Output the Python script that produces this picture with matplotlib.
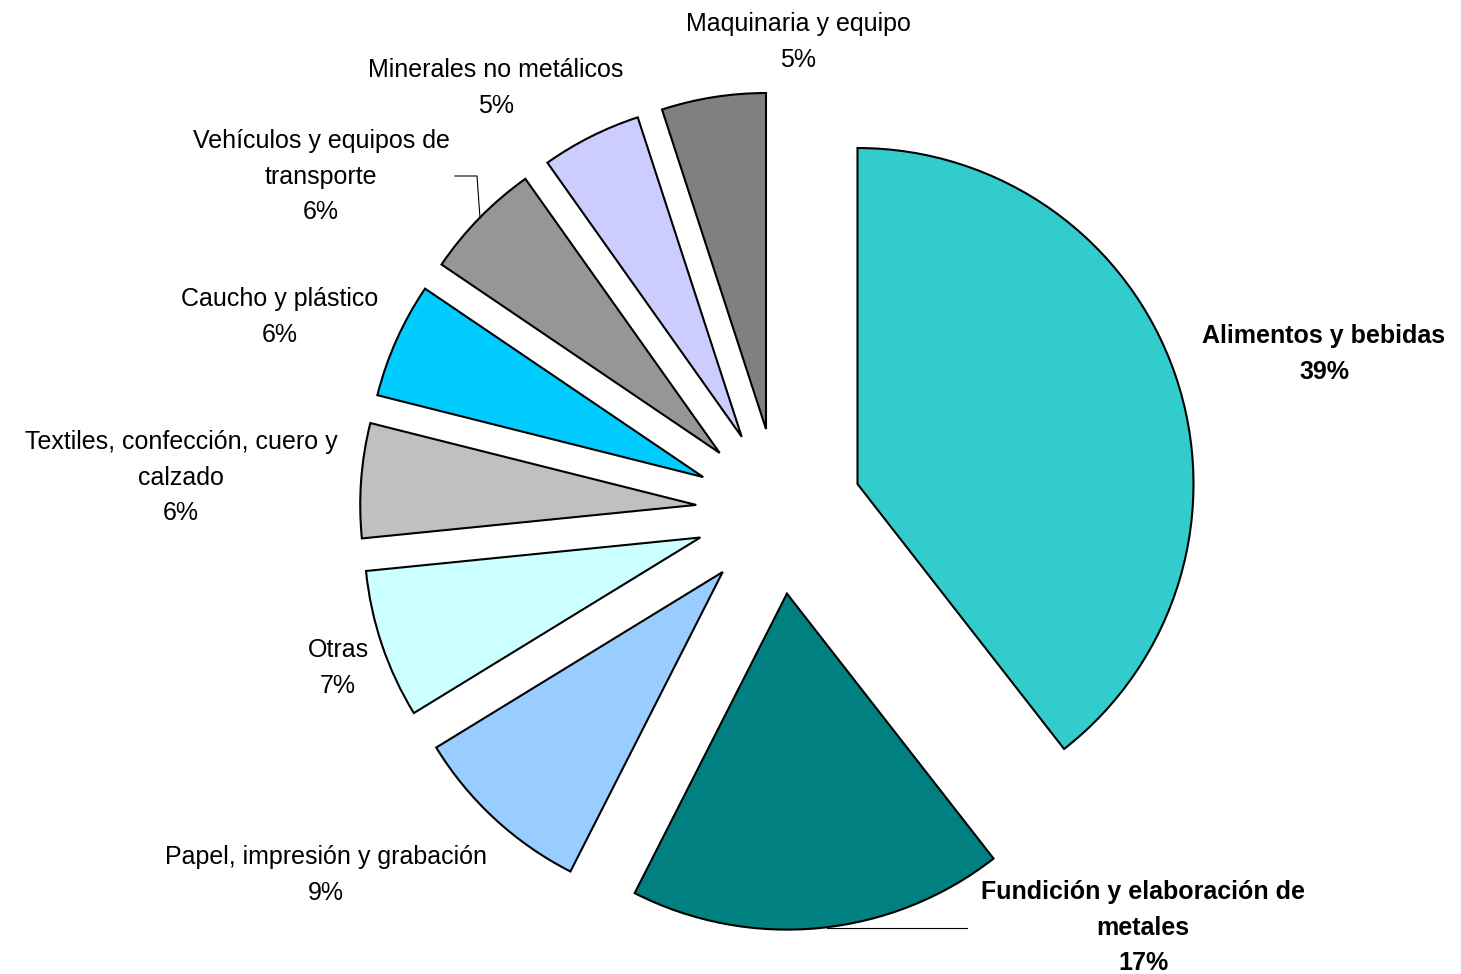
import matplotlib
matplotlib.use("Agg")
import matplotlib.pyplot as plt
from matplotlib.lines import Line2D

# ---- data ----
categories = ["Alimentos y bebidas", "Fundición y elaboración de metales",
              "Papel, impresión y grabación", "Otras",
              "Textiles, confección, cuero y calzado", "Caucho y plástico",
              "Vehículos y equipos de transporte", "Minerales no metálicos",
              "Maquinaria y equipo"]
shares = [39.4, 18.0, 8.75, 7.15, 5.5, 5.55, 5.7, 4.8, 5.0]
# percentages as printed in the chart's data labels
pct_labels = ["39%", "17%", "9%", "7%", "6%", "6%", "6%", "5%", "5%"]
label_lines = [["Alimentos y bebidas"],
               ["Fundición y elaboración de", "metales"],
               ["Papel, impresión y grabación"],
               ["Otras"],
               ["Textiles, confección, cuero y", "calzado"],
               ["Caucho y plástico"],
               ["Vehículos y equipos de", "transporte"],
               ["Minerales no metálicos"],
               ["Maquinaria y equipo"]]
bold_labels = [True, True, False, False, False, False, False, False, False]

# ---- style / layout ----
colors = ["#33CCCC", "#008080", "#99CCFF", "#CCFFFF", "#C0C0C0",
          "#00CCFF", "#969696", "#CCCCFF", "#808080"]
W, H = 1461, 974
CX, CY = 779, 511      # pie centre in pixels (from top-left)
R = 336                # radius in pixels
EXPLODE = 83 / R
label_pos = [(1324, 334), (1143, 890), (326, 855), (338, 648), (181, 440),
             (280, 297), (321, 139), (496, 68), (798, 22)]
LINE_STEP = 35.7
FS = 18

plt.rcParams["font.family"] = ["Liberation Sans", "DejaVu Sans"]

fig = plt.figure(figsize=(W / 100, H / 100), dpi=100)
ax = fig.add_axes([0, 0, 1, 1])
ax.pie(shares, colors=colors, startangle=90, counterclock=False,
       explode=[EXPLODE] * len(shares),
       wedgeprops=dict(edgecolor="black", linewidth=1.5))
ax.set_xlim(-CX / R, (W - CX) / R)
ax.set_ylim(-(H - CY) / R, CY / R)
ax.set_aspect("equal")
ax.axis("off")


def fx(px):
    return px / W


def fy(py):
    return 1 - py / H


for lines, pct, (x, y0), b in zip(label_lines, pct_labels, label_pos, bold_labels):
    all_lines = lines + [pct]
    for i, line in enumerate(all_lines):
        fig.text(fx(x), fy(y0 + i * LINE_STEP + 9), line, ha="center",
                 va="baseline", fontsize=FS,
                 fontweight="bold" if b else "normal", color="black")

# leader lines
fig.add_artist(Line2D([fx(455), fx(477), fx(480)], [fy(176), fy(176), fy(218)],
                      color="black", linewidth=0.8))
fig.add_artist(Line2D([fx(967), fx(827)], [fy(928), fy(928)],
                      color="black", linewidth=0.8))

fig.savefig("out.png", dpi=100, facecolor="white")
